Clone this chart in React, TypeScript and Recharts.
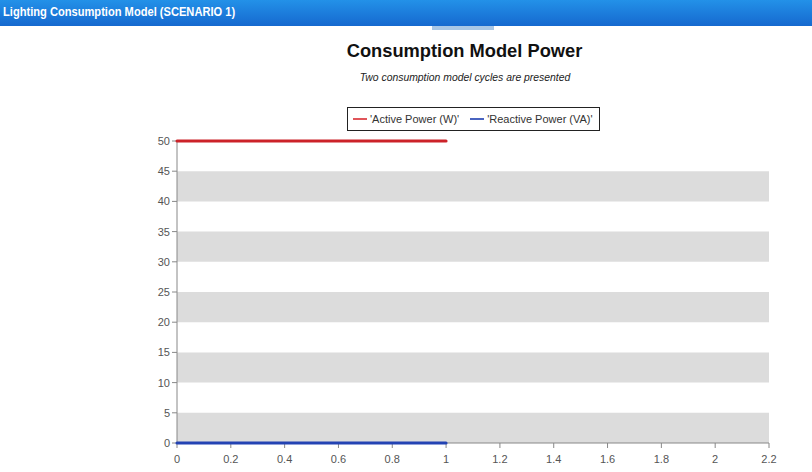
import React from "react";
import { LineChart, Line, XAxis, YAxis, ReferenceArea } from "recharts";

const xTicks = [0, 0.2, 0.4, 0.6, 0.8, 1, 1.2, 1.4, 1.6, 1.8, 2, 2.2];
const yTicks = [0, 5, 10, 15, 20, 25, 30, 35, 40, 45, 50];
const bands: [number, number][] = [
  [0, 5],
  [10, 15],
  [20, 25],
  [30, 35],
  [40, 45],
];
const activePower = [
  { x: 0, y: 50 },
  { x: 1, y: 50 },
];
const reactivePower = [
  { x: 0, y: 0 },
  { x: 1, y: 0 },
];
const seriesNames = ["'Active Power (W)'", "'Reactive Power (VA)'"];
const headerTitle = "Lighting Consumption Model (SCENARIO 1)";
const chartTitle = "Consumption Model Power";
const chartSubtitle = "Two consumption model cycles are presented";

const RED = "#cc2229";
const BLUE = "#2343b3";
const FONT = "'Liberation Sans', Arial, sans-serif";

export default function App() {
  return (
    <div
      style={{
        position: "absolute",
        left: 0,
        top: 0,
        width: 812,
        height: 472,
        background: "#fff",
        overflow: "hidden",
        fontFamily: FONT,
      }}
    >
      <div
        style={{
          position: "absolute",
          left: 0,
          top: 0,
          width: 812,
          height: 26,
          background: "linear-gradient(#2391e8, #1669cf)",
        }}
      />
      <div
        style={{
          position: "absolute",
          left: 3,
          top: 4,
          color: "#fff",
          fontWeight: "bold",
          fontSize: 13,
          whiteSpace: "nowrap",
          transform: "scaleX(0.855)",
          transformOrigin: "left center",
        }}
      >
        {headerTitle}
      </div>
      <div
        style={{
          position: "absolute",
          left: 432,
          top: 26,
          width: 62,
          height: 4,
          background: "#a9c7e6",
        }}
      />
      <div
        style={{
          position: "absolute",
          left: 0,
          width: 929,
          top: 40,
          textAlign: "center",
          fontSize: 18.3,
          fontWeight: "bold",
          color: "#111",
        }}
      >
        {chartTitle}
      </div>
      <div
        style={{
          position: "absolute",
          left: 0,
          width: 930,
          top: 72,
          textAlign: "center",
          fontSize: 10.4,
          fontStyle: "italic",
          color: "#222",
        }}
      >
        {chartSubtitle}
      </div>
      <div
        style={{
          position: "absolute",
          left: 347,
          top: 107,
          width: 251,
          height: 22,
          border: "1px solid #222",
          display: "flex",
          alignItems: "center",
          fontSize: 11,
          color: "#333",
          whiteSpace: "nowrap",
        }}
      >
        <span style={{ display: "inline-block", width: 14, height: 2, background: "#e0555a", marginLeft: 5, marginRight: 3 }} />
        <span>{seriesNames[0]}</span>
        <span style={{ display: "inline-block", width: 14, height: 2, background: "#4a64c0", marginLeft: 11, marginRight: 3 }} />
        <span>{seriesNames[1]}</span>
      </div>
      <div style={{ position: "absolute", left: 0, top: 0 }}>
        <LineChart
          width={812}
          height={472}
          margin={{ top: 141, right: 43, bottom: 4, left: 137 }}
        >
          <XAxis
            type="number"
            dataKey="x"
            domain={[0, 2.2]}
            ticks={xTicks}
            height={25}
            stroke="#888"
            tickSize={5}
            tickMargin={7}
            tick={{ fontSize: 11, fill: "#555", fontFamily: FONT }}
            tickFormatter={(v: number) => String(v)}
          />
          <YAxis
            type="number"
            dataKey="y"
            domain={[0, 50]}
            ticks={yTicks}
            width={40}
            stroke="#888"
            tickSize={5}
            tick={{ fontSize: 11, fill: "#555", fontFamily: FONT }}
          />
          {bands.map(([a, b]) => (
            <ReferenceArea
              key={a}
              x1={0}
              x2={2.2}
              y1={a}
              y2={b}
              fill="#dcdcdc"
              fillOpacity={1}
              stroke="none"
            />
          ))}
          <Line
            data={activePower}
            dataKey="y"
            stroke={RED}
            strokeWidth={3}
            dot={false}
            isAnimationActive={false}
            strokeLinecap="round"
            zIndex={2000}
          />
          <Line
            data={reactivePower}
            dataKey="y"
            stroke={BLUE}
            strokeWidth={3}
            dot={false}
            isAnimationActive={false}
            strokeLinecap="round"
            zIndex={2000}
          />
        </LineChart>
      </div>
    </div>
  );
}
